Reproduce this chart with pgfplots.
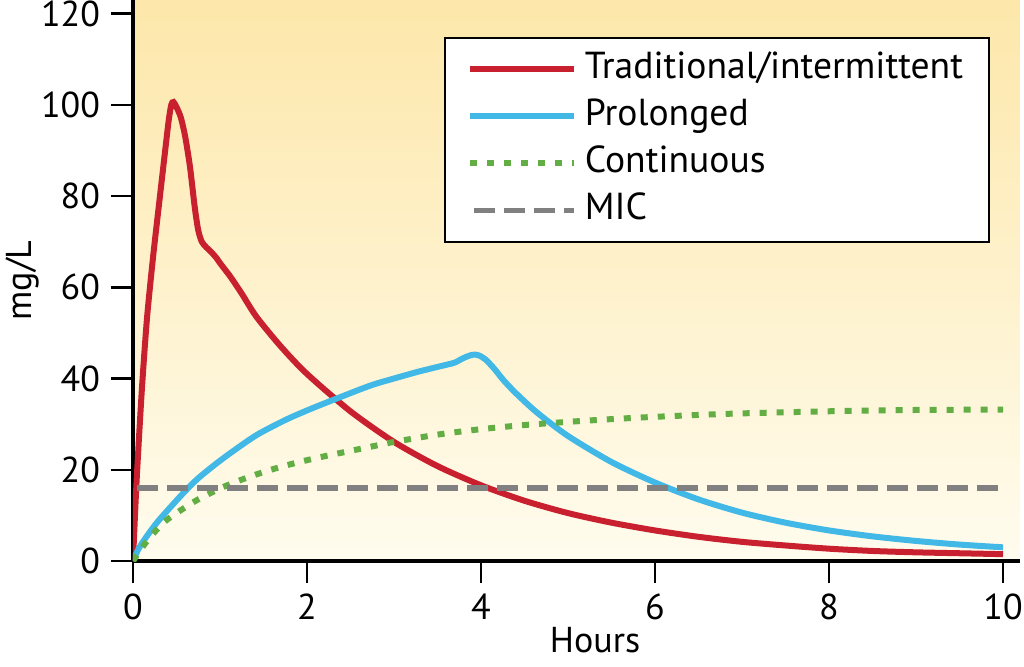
\documentclass[border=0pt]{standalone}
\usepackage{fontspec}
\setmainfont{PT Sans}
\usepackage{pgfplots}
\pgfplotsset{compat=1.18}
\definecolor{tradred}{RGB}{200,32,46}
\definecolor{prolblue}{RGB}{66,184,230}
\definecolor{contgreen}{RGB}{98,174,68}
\definecolor{micgray}{RGB}{128,128,128}
\definecolor{bgtop}{RGB}{253,231,170}
\definecolor{bgbot}{RGB}{255,252,238}
\begin{document}
\begin{tikzpicture}
\useasboundingbox (-66.5pt,-52.5pt) rectangle (445.5pt,280.5pt);
\begin{axis}[
  at={(0,0)}, anchor=south west,
  scale only axis,
  width=443.5pt, height=280.5pt,
  xmin=0, xmax=10.195, ymin=0, ymax=122.96,
  axis lines=left,
  axis line style={-, line width=2pt, black},
  xtick={0,2,...,10}, ytick={0,20,...,120},
  tick align=outside,
  major tick length=11pt,
  tick style={line width=1.25pt, black},
  /pgf/number format/assume math mode=true,
  ticklabel style={font=\fontsize{18}{21}\selectfont},
  xticklabel style={anchor=north, yshift=-2pt},
  yticklabel style={anchor=east, xshift=-2pt},
  xlabel={Hours}, ylabel={mg/L},
  every axis x label/.style={at={(axis description cs:0.521,-0.163)}, anchor=base, inner sep=0pt, font=\fontsize{18}{21}\selectfont},
  every axis y label/.style={at={(axis description cs:-0.125,0.5)}, rotate=90, anchor=center, font=\fontsize{18}{21}\selectfont},
  axis background/.style={top color=bgtop, bottom color=bgbot},
  legend cell align=left,
  legend image code/.code={\draw[#1] (0pt,0pt) -- (52pt,0pt); \path (54pt,0pt);},
  legend style={at={(axis description cs:0.966,0.934)}, anchor=north east,
    draw=black, line width=0.8pt, fill=white,
    font=\fontsize{18.8}{22}\selectfont,
    inner xsep=11pt, inner ysep=4pt, row sep=0pt,
    nodes={text height=13pt, text depth=4pt, inner ysep=3.25pt}},
]
\addplot[tradred, line width=3pt, smooth, tension=0.45] coordinates {
(0,0) (0.04,17) (0.1,37) (0.16,53) (0.23,66.5) (0.31,80) (0.37,90) (0.41,96.5) (0.44,100)
(0.465,100.6) (0.5,99.5) (0.55,97.2) (0.6,93) (0.655,86.4) (0.71,77.5) (0.75,72.5)
(0.79,70) (0.84,68.8) (0.9,67.7) (0.96,66.4) (1.0,65.3) (1.12,62.3) (1.25,58.6)
(1.42,53.5) (1.7,47.0) (2.0,41.0) (2.5,32.8) (3.0,26.1) (3.5,20.8) (4.0,16.6)
(4.5,13.2) (5.0,10.5) (5.5,8.4) (6.0,6.7) (6.5,5.3) (7.0,4.2) (7.5,3.4) (8.0,2.7)
(8.5,2.2) (9.0,1.9) (9.5,1.7) (10,1.5)};
\addlegendentry{Traditional/intermittent}
\addplot[prolblue, line width=3pt, smooth, tension=0.45] coordinates {
(0,0) (0.08,3.2) (0.27,8.3) (0.54,14.1) (0.73,17.8) (0.92,20.8) (1.115,23.6) (1.42,27.6)
(1.75,30.9) (2.0,33.0) (2.26,35.0) (2.72,38.4) (3.0,40.0) (3.3,41.6) (3.6,43.0)
(3.7,43.5) (3.8,44.5) (3.9,45.2) (3.97,45.1) (4.05,44.2) (4.15,42.2) (4.26,39.6)
(4.4,36.8) (4.64,32.6) (5.0,27.4) (5.5,21.7) (6.0,17.2) (6.5,13.5) (7.0,10.6)
(7.5,8.4) (8.0,6.7) (8.5,5.4) (9.0,4.4) (9.5,3.6) (10,3.0)};
\addlegendentry{Prolonged}
\addplot[contgreen, line width=3pt, dash pattern=on 3.5pt off 5pt, smooth, tension=0.45] coordinates {
(0,0) (0.1,2.8) (0.2,5.3) (0.35,8.4) (0.5,10.5) (0.73,13.3) (1.0,15.9) (1.23,17.7)
(1.5,19.5) (1.75,20.9) (2.0,22.1) (2.26,23.2) (2.72,25.0) (3.0,26.1) (3.5,27.7)
(4.0,28.9) (4.5,29.8) (5.0,30.5) (5.5,31.1) (6,31.6) (6.9,32.3) (8.2,32.9) (9,33.1) (10,33.2)};
\addlegendentry{Continuous}
\addplot[micgray, line width=2.8pt, dash pattern=on 10.5pt off 4.5pt, dash phase=13pt] coordinates {
(0,16) (10,16)};
\addlegendentry{MIC}
\end{axis}
\end{tikzpicture}
\end{document}
